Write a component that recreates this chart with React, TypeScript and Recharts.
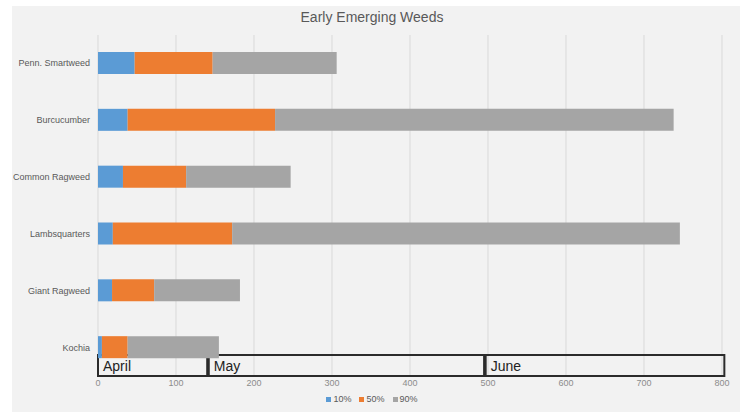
import React from "react";
import {
  Bar,
  BarChart,
  CartesianGrid,
  Legend,
  ReferenceArea,
  XAxis,
  YAxis,
} from "recharts";

// days after Jan 1 until 10%, 50% and 90% of emergence
const weeds = [
  "Penn. Smartweed",
  "Burcucumber",
  "Common Ragweed",
  "Lambsquarters",
  "Giant Ragweed",
  "Kochia",
];
const reach10 = [47, 38, 32, 19, 18, 5];
const reach50 = [147, 227, 113, 172, 72, 38];
const reach90 = [306, 738, 247, 746, 182, 155];

const xTicks = [0, 100, 200, 300, 400, 500, 600, 700, 800];

const months = [
  { name: "April", from: 0, to: 140 },
  { name: "May", from: 142, to: 495 },
  { name: "June", from: 497, to: 803 },
];

// stacked segments: each bar piece is the gap to the previous level
const rows = weeds.map((name, i) => ({
  name,
  p10: reach10[i],
  p50: reach50[i] - reach10[i],
  p90: reach90[i] - reach50[i],
}));

const FONT = "'Liberation Sans', Arial, sans-serif";
const BOX_H = 21;

// compact legend: small square swatch hugging its label
const LegendRow = (props: any) => {
  const { payload = [] } = props;
  return (
    <div
      style={{
        display: "flex",
        justifyContent: "center",
        gap: 8,
        fontSize: 9,
        color: "#595959",
        fontFamily: FONT,
        paddingLeft: 22,
      }}
    >
      {payload.map((p: any) => (
        <span key={p.value} style={{ display: "flex", alignItems: "center", gap: 2 }}>
          <span style={{ width: 5, height: 5, background: p.color, display: "inline-block" }} />
          {p.value}
        </span>
      ))}
    </div>
  );
};

// single-line category label, right aligned against the plot
const WeedTick = (props: any) => {
  const { x, y, payload } = props;
  return (
    <text
      x={x}
      y={y}
      dy={3}
      textAnchor="end"
      fontSize={9}
      fill="#595959"
      fontFamily={FONT}
    >
      {payload.value}
    </text>
  );
};

// month box: takes the area's x span, drawn as a strip along the plot bottom
const monthBox = (label: string) => (props: any) => {
  const { x, y, width, height } = props;
  const top = y + height - BOX_H;
  return (
    <g>
      <rect
        x={x}
        y={top}
        width={width}
        height={BOX_H}
        fill="none"
        stroke="#2b2b2b"
        strokeWidth={2}
      />
      <text
        x={x + 5}
        y={top + BOX_H / 2 + 5}
        fontSize={14}
        fill="#222222"
        fontFamily={FONT}
      >
        {label}
      </text>
    </g>
  );
};

export default function App() {
  return (
    <div
      style={{
        position: "relative",
        width: 740,
        height: 412,
        background: "#ffffff",
        fontFamily: FONT,
      }}
    >
      <style>{`body{margin:0}`}</style>
      <div
        style={{
          position: "absolute",
          left: 12,
          top: 6,
          width: 728,
          height: 406,
          background: "#f2f2f2",
        }}
      />
      <div
        style={{
          position: "absolute",
          top: 9,
          left: 0,
          width: 744,
          textAlign: "center",
          fontSize: 14,
          color: "#595959",
        }}
      >
        Early Emerging Weeds
      </div>
      <div style={{ position: "absolute", left: 0, top: 0 }}>
        <BarChart
          width={740}
          height={412}
          data={rows}
          layout="vertical"
          margin={{ top: 35, right: 18, bottom: 0, left: 0 }}
          barSize={22}
          style={{ fontFamily: FONT }}
        >
          <CartesianGrid horizontal={false} stroke="#d9d9d9" />
          <XAxis
            type="number"
            domain={[0, 800]}
            ticks={xTicks}
            axisLine={false}
            tickLine={false}
            tickSize={0}
            tickMargin={4}
            height={20}
            tick={{ fill: "#8c8c8c", fontSize: 9 }}
          />
          <YAxis
            type="category"
            dataKey="name"
            width={98}
            axisLine={false}
            tickLine={false}
            tick={<WeedTick />}
          />
          <Bar dataKey="p10" name="10%" stackId="a" fill="#5b9bd5" isAnimationActive={false} />
          <Bar dataKey="p50" name="50%" stackId="a" fill="#ed7d31" isAnimationActive={false} />
          <Bar dataKey="p90" name="90%" stackId="a" fill="#a5a5a5" isAnimationActive={false} />
          {months.map((m) => (
            <ReferenceArea
              key={m.name}
              x1={m.from}
              x2={m.to}
              ifOverflow="visible"
              shape={monthBox(m.name)}
            />
          ))}
          <Legend
            verticalAlign="bottom"
            height={16}
            content={<LegendRow />}
            wrapperStyle={{ lineHeight: "12px", marginBottom: 3 }}
          />
        </BarChart>
      </div>
    </div>
  );
}
